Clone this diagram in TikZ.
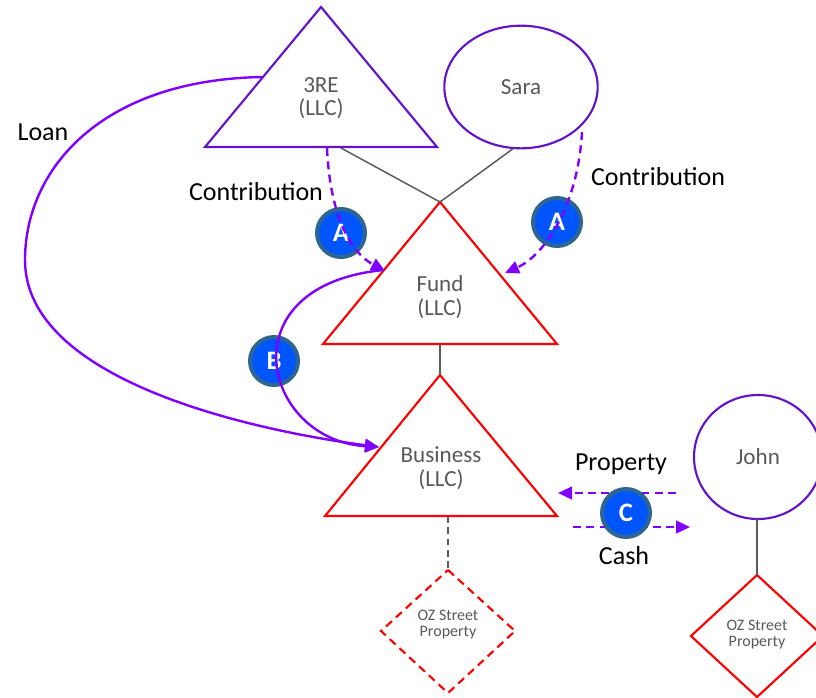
\documentclass[tikz,border=0pt]{standalone}
\usepackage{fontspec}
\setmainfont{Carlito}
\usetikzlibrary{arrows.meta,shapes.geometric}
\definecolor{txtgray}{HTML}{595959}
\definecolor{dpurple}{HTML}{6414C8}
\definecolor{apurple}{HTML}{8000FF}
\definecolor{badgeblue}{HTML}{0055FF}
\definecolor{badgerim}{HTML}{2F6690}
\definecolor{linkgray}{HTML}{595959}
\definecolor{ozred}{HTML}{FF0000}
\begin{document}
\begin{tikzpicture}[x=0.75pt,y=-0.75pt,
  entity/.style={font=\fontsize{17.3}{17.5}\selectfont, text=txtgray, align=center, inner sep=0pt},
  smalltext/.style={font=\fontsize{12}{12}\selectfont, text=txtgray, align=center, inner sep=0pt},
  lbl/.style={font=\fontsize{19.5}{22}\selectfont, text=black, inner sep=0pt},
  person/.style={ellipse, draw=dpurple, line width=1.6pt, font=\fontsize{17.3}{17.5}\selectfont, text=txtgray, inner sep=0pt},
  llcshape/.style={line width=1.6pt, line join=miter},
  badge/.style={circle, fill=badgeblue, draw=badgerim, line width=3pt, minimum size=36pt, inner sep=0pt, text=white, font=\fontsize{20}{22}\selectfont\bfseries},
  flow/.style={draw=apurple, line width=1.8pt, -{Triangle[length=10.5pt,width=9.5pt]}},
  flowdash/.style={flow, dash pattern=on 6pt off 4pt},
  link/.style={draw=linkgray, line width=1.1pt},
  linkdash/.style={link, dash pattern=on 5pt off 3.5pt},
]
\useasboundingbox (0,0) rectangle (816,697);

% 3RE triangle
\coordinate (reTop) at (321,7);
\coordinate (reL) at (205,147);
\coordinate (reR) at (437,147);
\draw[llcshape, draw=dpurple] (reTop) -- (reL) -- (reR) -- cycle;
\node[entity] (reText) at (321,98) {3RE\\(LLC)};

% Sara
\node[person, minimum width=115pt, minimum height=92pt] (sara) at (521,87) {Sara};

% Fund triangle
\coordinate (fTop) at (440,202);
\coordinate (fL) at (323,344);
\coordinate (fR) at (557,344);
\draw[llcshape, draw=ozred] (fTop) -- (fL) -- (fR) -- cycle;
\node[entity] (fText) at (440,297) {Fund\\(LLC)};

% Business triangle
\coordinate (bTop) at (440,375);
\coordinate (bL) at (325,516);
\coordinate (bR) at (557,516);
\draw[llcshape, draw=ozred] (bTop) -- (bL) -- (bR) -- cycle;
\node[entity] (bText) at (441,468) {Business\\(LLC)};

% John
\node[person, minimum width=96pt, minimum height=93pt] (john) at (758,457) {John};

% OZ property (dashed)
\coordinate (ozTop) at (448,570);
\coordinate (ozL) at (381,631);
\coordinate (ozR) at (515,631);
\coordinate (ozB) at (448,693);
\draw[llcshape, draw=ozred, dash pattern=on 6pt off 4pt] (ozTop) -- (ozR) -- (ozB) -- (ozL) -- cycle;
\node[smalltext] (ozText) at (448,625) {OZ Street\\Property};

% John's OZ property
\coordinate (jozTop) at (757,575);
\coordinate (jozL) at (691,636);
\coordinate (jozR) at (823,636);
\coordinate (jozB) at (757,697);
\draw[llcshape, draw=ozred] (jozTop) -- (jozR) -- (jozB) -- (jozL) -- cycle;
\node[smalltext] (jozText) at (757,635) {OZ Street\\Property};

% ownership links
\coordinate (reBase) at (341,148);
\coordinate (saraBase) at (514,148);
\coordinate (fBase) at (440,344);
\coordinate (bBase) at (448,516);
\coordinate (johnBase) at (757,519);
\draw[link] (reBase) -- (fTop);
\draw[link] (saraBase) -- (fTop);
\draw[link] (fBase) -- (bTop);
\draw[linkdash] (bBase) -- (ozTop);
\draw[link] (johnBase) -- (jozTop);

% badges drawn under their flows
\node[badge] (badgeA1) at (341,233) {A};
\node[badge] (badgeA2) at (557,222) {A};
\node[badge] (badgeB) at (274,361) {B};

% contributions
\coordinate (reOut) at (327,148);
\coordinate (fInL) at (385,271);
\coordinate (saraOut) at (582,132);
\coordinate (fInR) at (505,273);
\draw[flowdash] (reOut) .. controls (330,215) and (350,252) .. (fInL);
\draw[flowdash] (saraOut) .. controls (578,205) and (545,255) .. (fInR);

% loan
\coordinate (reLoan) at (262,77);
\coordinate (bIn) at (379,447);
\coordinate (fOut) at (384,270);
\draw[flow] (reLoan) .. controls (100,80) and (25,170) .. (25,260)
  .. controls (25,380) and (250,430) .. (bIn);
\draw[flow] (fOut) .. controls (225,285) and (262,440) .. (bIn);

% property / cash
\coordinate (propStart) at (676,493);
\coordinate (propEnd) at (558,493);
\coordinate (cashStart) at (573,527);
\coordinate (cashEnd) at (690,527);
\draw[flowdash] (propStart) -- (propEnd);
\draw[flowdash] (cashStart) -- (cashEnd);

% badge above its flows
\node[badge] (badgeC) at (626,513) {C};

% labels
\node[lbl] (loanLbl) at (43,132) {Loan};
\node[lbl] (contribL) at (256,192) {Contribution};
\node[lbl] (contribR) at (658,177) {Contribution};
\node[lbl] (propLbl) at (621,464) {Property};
\node[lbl] (cashLbl) at (624,556) {Cash};
\end{tikzpicture}
\end{document}
